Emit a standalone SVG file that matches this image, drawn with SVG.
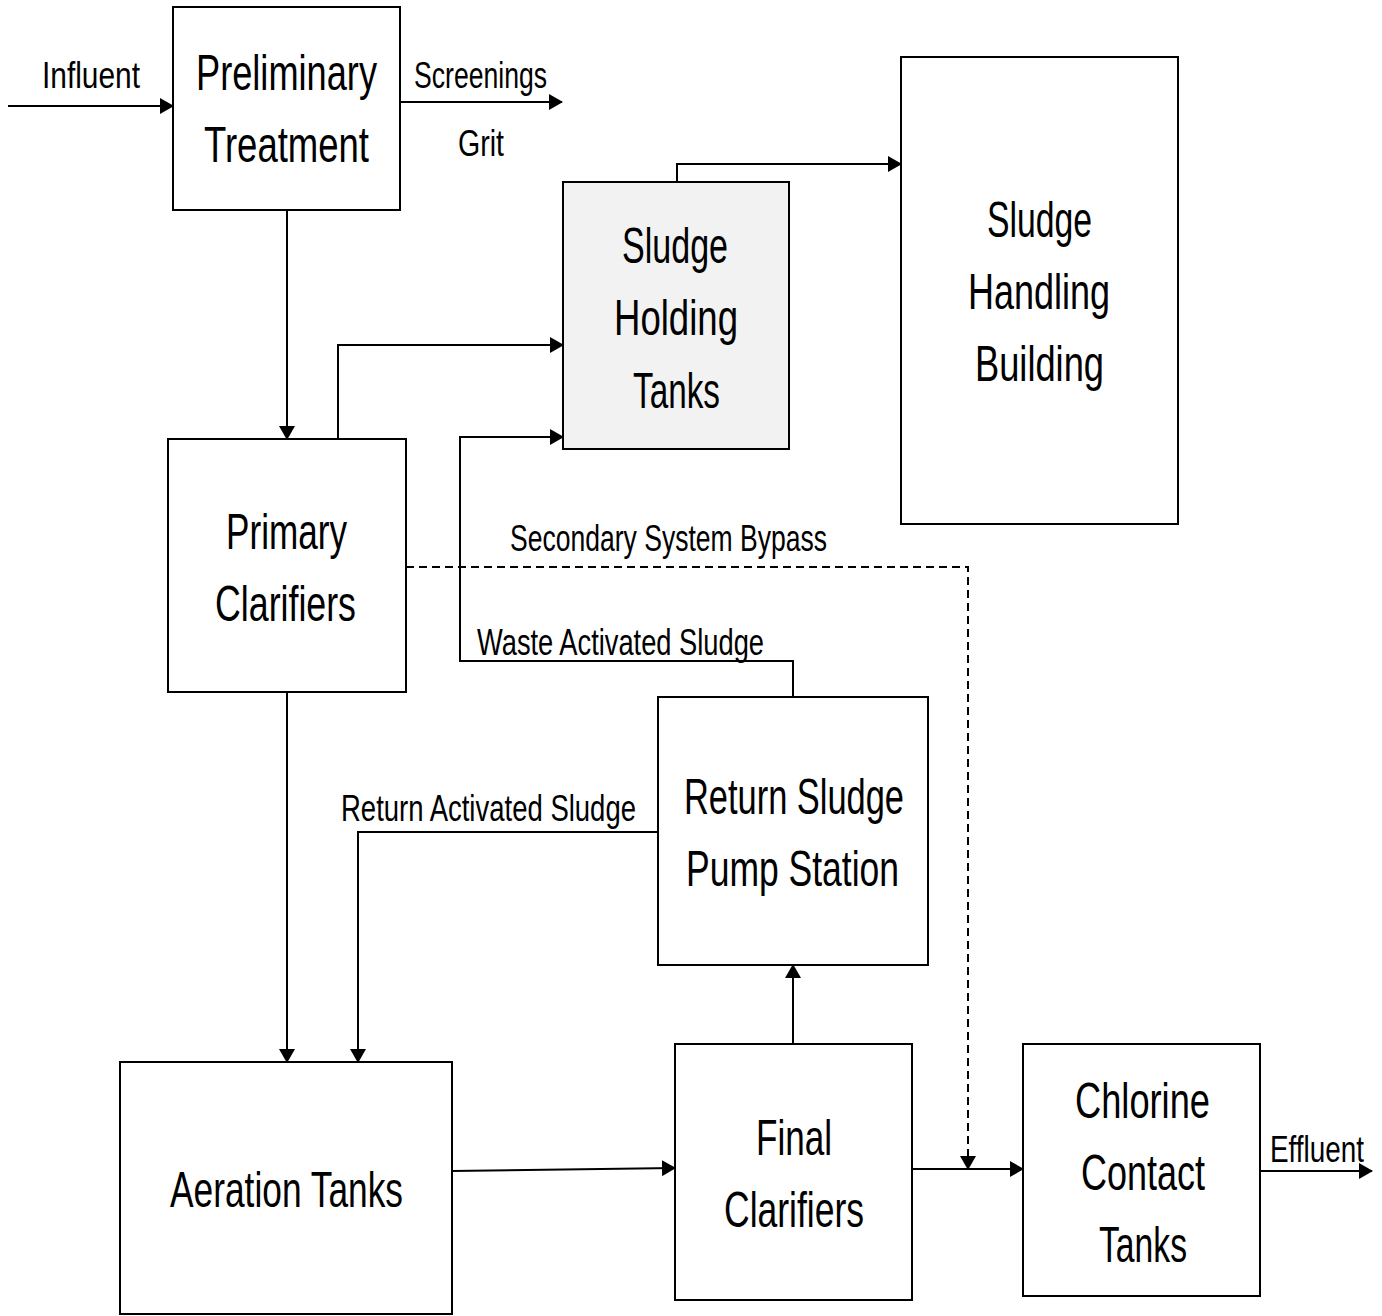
<svg xmlns="http://www.w3.org/2000/svg" width="1382" height="1316" viewBox="0 0 1382 1316">
<style>
.box{fill:#fff;stroke:#000;stroke-width:2}
.grey{fill:#f2f2f2}
.t{font-family:"Liberation Sans Narrow","Liberation Sans",Arial,sans-serif;font-size:50px;fill:#000}
.l{font-family:"Liberation Sans Narrow","Liberation Sans",Arial,sans-serif;font-size:37px;fill:#000}
.c{fill:none;stroke:#000;stroke-width:2}
.d{stroke-dasharray:8 5}
</style>
<defs>
<marker id="ah" markerUnits="userSpaceOnUse" markerWidth="14" markerHeight="16" refX="13" refY="8" orient="auto">
<path d="M0,0 L14,8 L0,16 Z" fill="#000"/>
</marker>
</defs>
<rect width="1382" height="1316" fill="#fff"/>
<g id="connectors">
<path class="c" d="M8,106 H173" marker-end="url(#ah)"/>
<path class="c" d="M400,102 H562" marker-end="url(#ah)"/>
<path class="c" d="M287,210 V439" marker-end="url(#ah)"/>
<path class="c" d="M338,439 V345 H563" marker-end="url(#ah)"/>
<path class="c" d="M793,697 V661 H460 V437 H563" marker-end="url(#ah)"/>
<path class="c" d="M677,182 V164 H901" marker-end="url(#ah)"/>
<path class="c d" d="M406,567 H968 V1169" marker-end="url(#ah)"/>
<path class="c" d="M287,692 V1062" marker-end="url(#ah)"/>
<path class="c" d="M658,832 H358 V1062" marker-end="url(#ah)"/>
<path class="c" d="M452,1171 L675,1168" marker-end="url(#ah)"/>
<path class="c" d="M793,1044 V965" marker-end="url(#ah)"/>
<path class="c" d="M912,1169 H1023" marker-end="url(#ah)"/>
<path class="c" d="M1260,1171 H1372" marker-end="url(#ah)"/>
</g>
<g id="labels">
<text class="l" x="42" y="88" textLength="98" lengthAdjust="spacingAndGlyphs">Influent</text>
<text class="l" x="414" y="88" textLength="133" lengthAdjust="spacingAndGlyphs">Screenings</text>
<text class="l" x="458" y="156" textLength="46" lengthAdjust="spacingAndGlyphs">Grit</text>
<text class="l" x="510" y="551" textLength="317" lengthAdjust="spacingAndGlyphs">Secondary System Bypass</text>
<text class="l" x="477" y="655" textLength="287" lengthAdjust="spacingAndGlyphs">Waste Activated Sludge</text>
<text class="l" x="341" y="821" textLength="295" lengthAdjust="spacingAndGlyphs">Return Activated Sludge</text>
<text class="l" x="1270" y="1162" textLength="94" lengthAdjust="spacingAndGlyphs">Effluent</text>
</g>
<g id="preliminary">
<rect class="box" x="173" y="7" width="227" height="203"/>
<text class="t" x="196" y="90" textLength="181" lengthAdjust="spacingAndGlyphs">Preliminary</text>
<text class="t" x="204" y="162" textLength="165" lengthAdjust="spacingAndGlyphs">Treatment</text>
</g>
<g id="sludge-holding">
<rect class="box grey" x="563" y="182" width="226" height="267"/>
<text class="t" x="622" y="263" textLength="106" lengthAdjust="spacingAndGlyphs">Sludge</text>
<text class="t" x="614" y="335" textLength="124" lengthAdjust="spacingAndGlyphs">Holding</text>
<text class="t" x="633" y="408" textLength="87" lengthAdjust="spacingAndGlyphs">Tanks</text>
</g>
<g id="sludge-handling">
<rect class="box" x="901" y="57" width="277" height="467"/>
<text class="t" x="987" y="237" textLength="105" lengthAdjust="spacingAndGlyphs">Sludge</text>
<text class="t" x="968" y="309" textLength="142" lengthAdjust="spacingAndGlyphs">Handling</text>
<text class="t" x="975" y="381" textLength="129" lengthAdjust="spacingAndGlyphs">Building</text>
</g>
<g id="primary">
<rect class="box" x="168" y="439" width="238" height="253"/>
<text class="t" x="226" y="549" textLength="121" lengthAdjust="spacingAndGlyphs">Primary</text>
<text class="t" x="215" y="621" textLength="141" lengthAdjust="spacingAndGlyphs">Clarifiers</text>
</g>
<g id="return-sludge">
<rect class="box" x="658" y="697" width="270" height="268"/>
<text class="t" x="684" y="814" textLength="220" lengthAdjust="spacingAndGlyphs">Return Sludge</text>
<text class="t" x="686" y="886" textLength="213" lengthAdjust="spacingAndGlyphs">Pump Station</text>
</g>
<g id="aeration">
<rect class="box" x="120" y="1062" width="332" height="252"/>
<text class="t" x="170" y="1207" textLength="233" lengthAdjust="spacingAndGlyphs">Aeration Tanks</text>
</g>
<g id="final">
<rect class="box" x="675" y="1044" width="237" height="256"/>
<text class="t" x="756" y="1155" textLength="76" lengthAdjust="spacingAndGlyphs">Final</text>
<text class="t" x="724" y="1227" textLength="140" lengthAdjust="spacingAndGlyphs">Clarifiers</text>
</g>
<g id="chlorine">
<rect class="box" x="1023" y="1044" width="237" height="252"/>
<text class="t" x="1075" y="1118" textLength="135" lengthAdjust="spacingAndGlyphs">Chlorine</text>
<text class="t" x="1081" y="1190" textLength="124" lengthAdjust="spacingAndGlyphs">Contact</text>
<text class="t" x="1099" y="1262" textLength="88" lengthAdjust="spacingAndGlyphs">Tanks</text>
</g>
</svg>
